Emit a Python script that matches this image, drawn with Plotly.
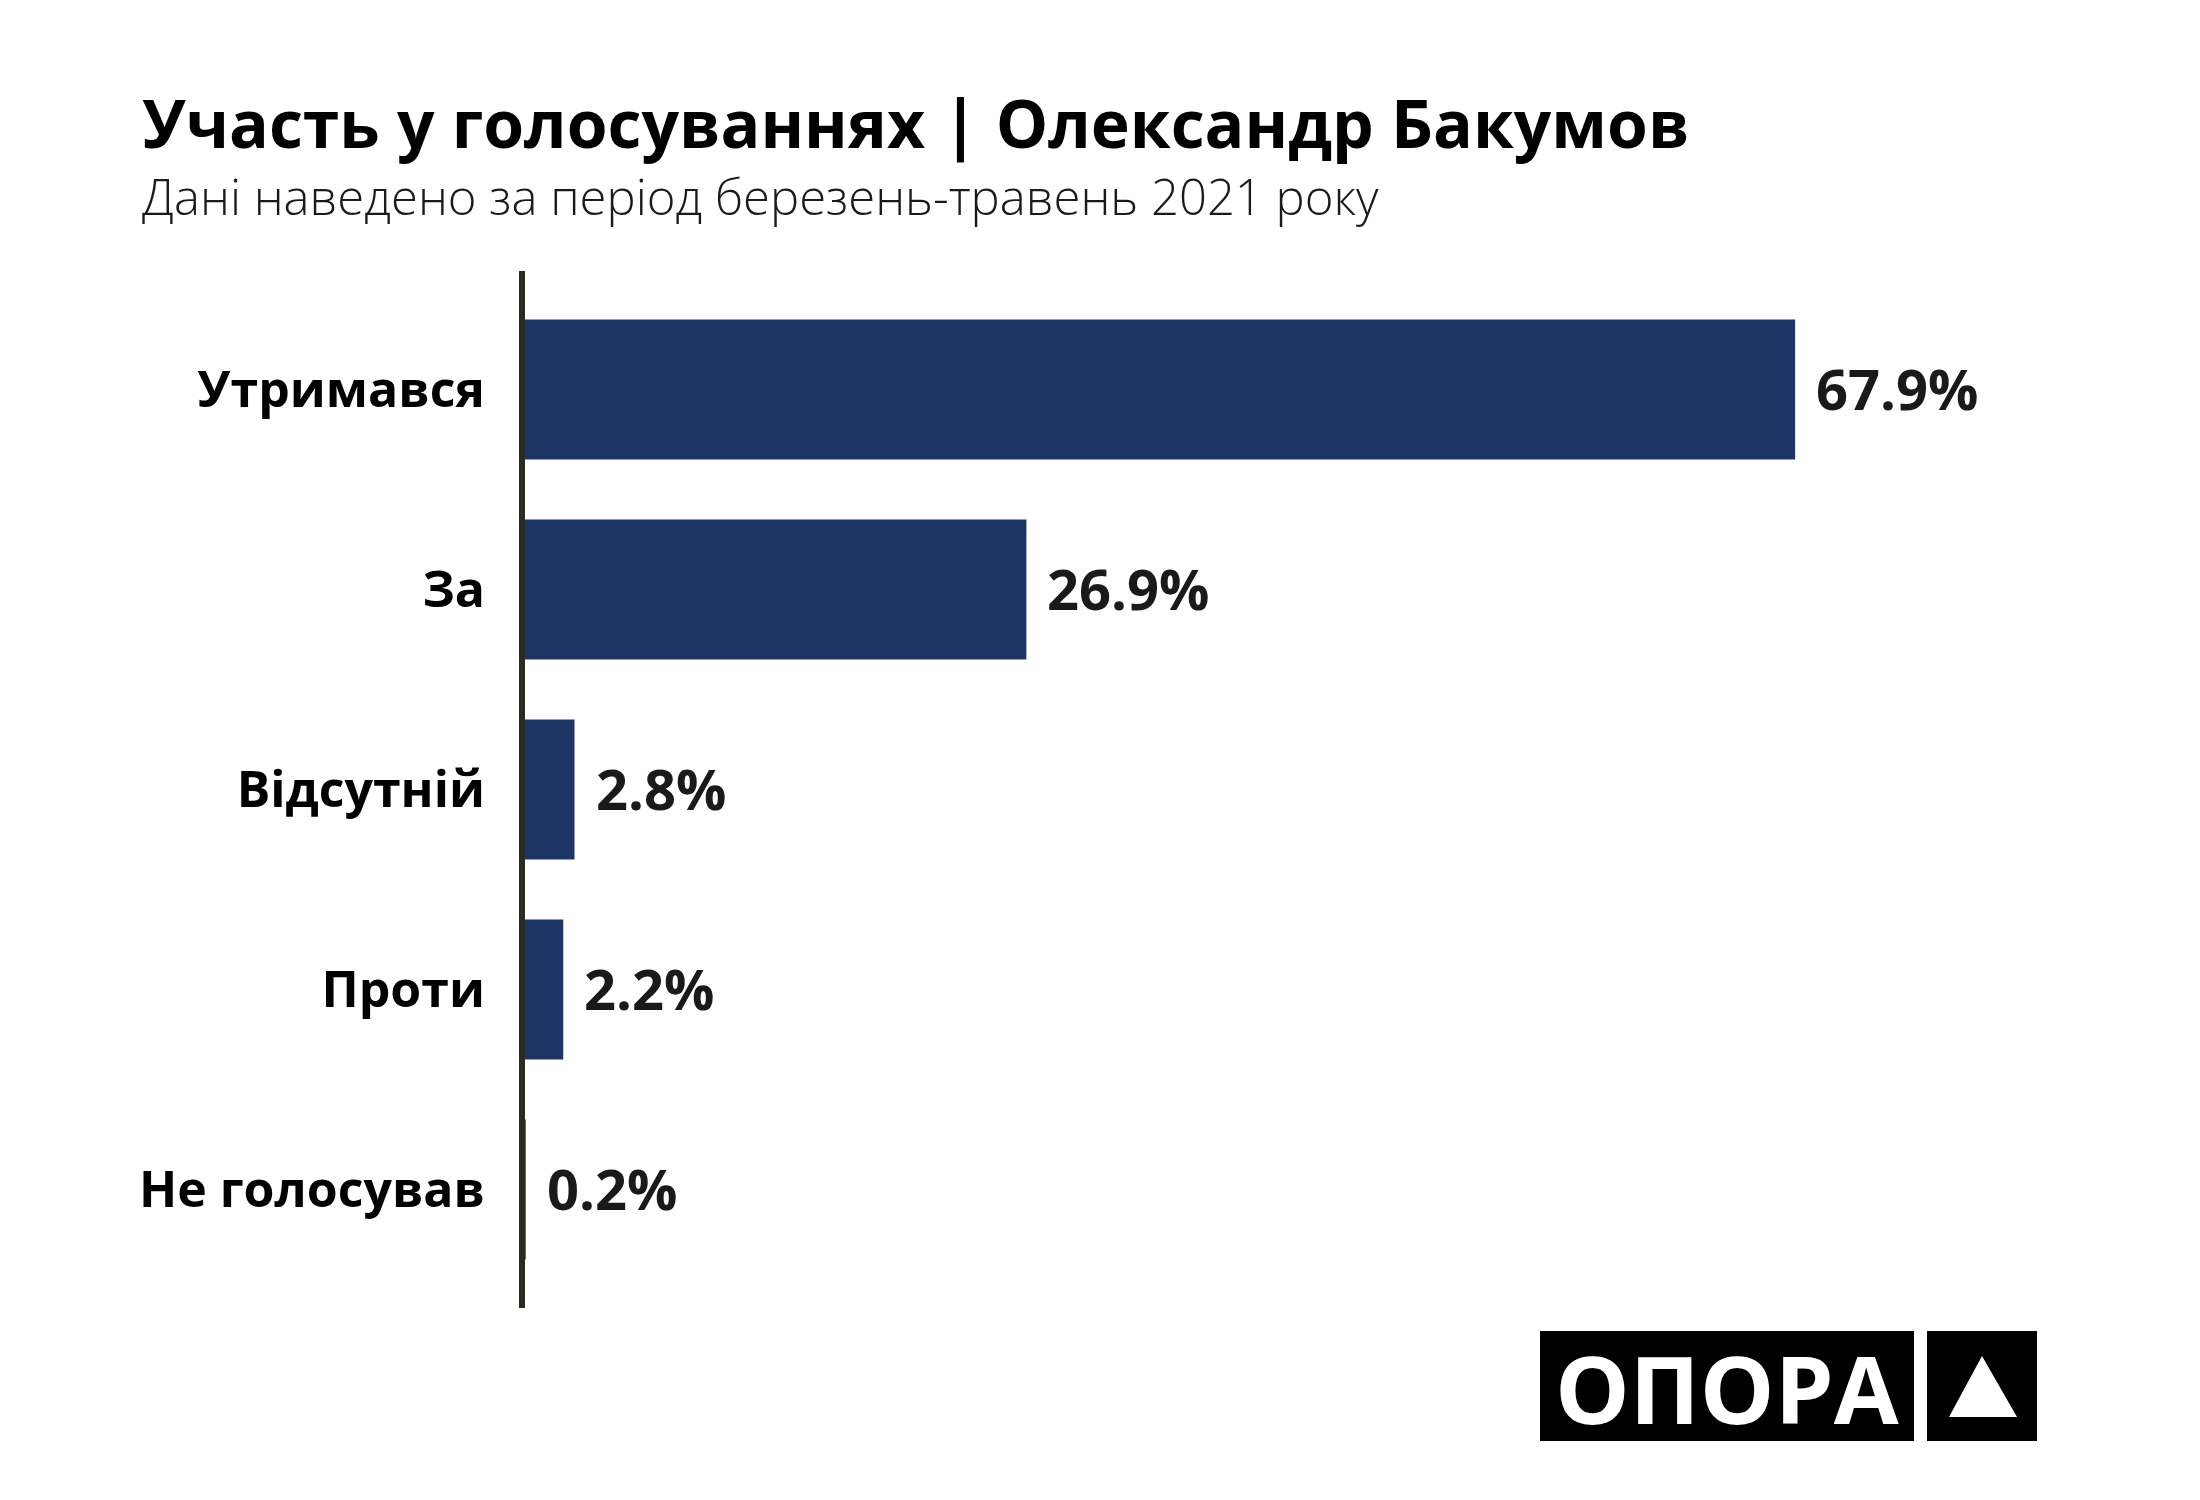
import plotly.graph_objects as go

categories = ["Утримався", "За", "Відсутній", "Проти", "Не голосував"]
values = [67.9, 26.9, 2.8, 2.2, 0.2]
value_labels = ["67.9%", "26.9%", "2.8%", "2.2%", "0.2%"]

title_text = "Участь у голосуваннях | Олександр Бакумов"
subtitle_text = "Дані наведено за період березень-травень 2021 року"
logo_text = "ОПОРА"

OFF = 8  # page body margin
W, H = 2200, 1500
L, R, T, B = 522 - OFF, 178 + OFF, 271 - OFF, 192 + OFF
PW, PH = W - L - R, H - T - B

def px(x):
    return (x - OFF - L) / PW

def py(y):
    return 1 - (y - OFF - T) / PH

BAR = "#1e3666"
FONT = "Open Sans"

fig = go.Figure(go.Bar(
    x=values, y=categories, orientation="h",
    marker=dict(color=BAR, line=dict(width=0)),
    width=0.7, hoverinfo="skip",
))

annotations = []
for c, v, t in zip(categories, values, value_labels):
    annotations.append(dict(
        x=v, y=c, xref="x", yref="y", text=t, showarrow=False,
        xanchor="left", yanchor="middle", xshift=19, yshift=2,
        font=dict(family=FONT, size=56, color="#1a1a1a", weight="bold"),
    ))

annotations.append(dict(
    x=px(140), y=py(122), xref="paper", yref="paper", text=f"<b>{title_text}</b>",
    showarrow=False, xanchor="left", yanchor="middle",
    font=dict(family=FONT, size=66, color="#000000"),
))
annotations.append(dict(
    x=px(140), y=py(196), xref="paper", yref="paper", text=subtitle_text,
    showarrow=False, xanchor="left", yanchor="middle",
    font=dict(family=FONT, size=49, color="#1a1a1a", weight=300),
))
annotations.append(dict(
    x=px(1727), y=py(1388), xref="paper", yref="paper", text=f"<b>{logo_text}</b>",
    showarrow=False, xanchor="center", yanchor="middle",
    font=dict(family=FONT, size=94, color="#ffffff"),
))

shapes = [
    dict(type="line", xref="paper", yref="paper", x0=px(522), x1=px(522), y0=0, y1=1,
         line=dict(color="#2a2b23", width=6), layer="above"),
    dict(type="rect", xref="paper", yref="paper", x0=px(1540), x1=px(1914),
         y0=py(1441), y1=py(1331), fillcolor="#000000", line=dict(width=0), layer="above"),
    dict(type="rect", xref="paper", yref="paper", x0=px(1927), x1=px(2037),
         y0=py(1441), y1=py(1331), fillcolor="#000000", line=dict(width=0), layer="above"),
    dict(type="path", xref="paper", yref="paper",
         path=f"M {px(1982)} {py(1356)} L {px(2017)} {py(1417)} L {px(1949)} {py(1417)} Z",
         fillcolor="#ffffff", line=dict(width=0), layer="above"),
]

fig.update_layout(
    width=W, height=H,
    margin=dict(l=L, r=R, t=T, b=B, autoexpand=False),
    paper_bgcolor="#ffffff", plot_bgcolor="#ffffff",
    showlegend=False,
    xaxis=dict(range=[0, 80], visible=False, showgrid=False, zeroline=False),
    yaxis=dict(
        type="category", categoryorder="array", categoryarray=categories,
        range=[4.5925, -0.5925], showgrid=False, zeroline=False, showline=False,
        ticks="", ticklabelstandoff=36,
        tickfont=dict(family=FONT, size=50, color="#000000", weight="bold"),
    ),
    annotations=annotations,
    shapes=shapes,
)

fig.write_html("out.html")
